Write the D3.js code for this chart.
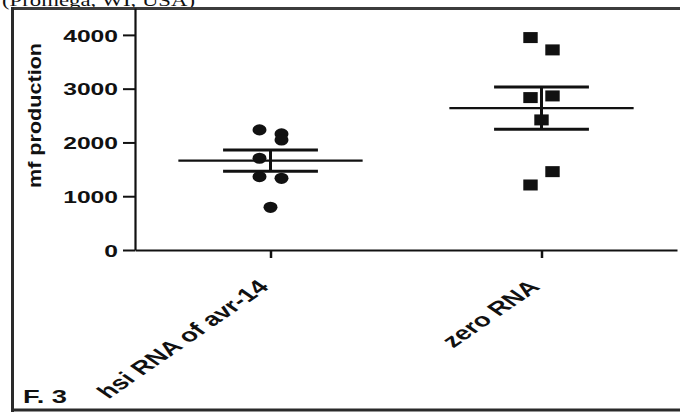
<!DOCTYPE html>
<html>
<head>
<meta charset="utf-8">
<script src="https://cdn.jsdelivr.net/npm/d3@7"></script>
<style>
  html, body { margin: 0; padding: 0; background: #fff; }
  svg { display: block; }
</style>
</head>
<body>
<svg id="chart" width="680" height="412"></svg>
<script>
// ---- data ----
const categories = ["hsi RNA of avr-14", "zero RNA"];
const hsiValues  = [2233, 2158, 2047, 1706, 1364, 1333, 794];
const hsiJitter  = [-1, 1, 1, -1, -1, 1, 0];
const zeroValues = [3950, 3721, 2865, 2834, 2419, 1457, 1209];
const zeroJitter = [-1, 1, 1, -1, 0, 1, -1];
const yTicks = [0, 1000, 2000, 3000, 4000];
const yLabel = "mf production";
const figLabel = "F. 3";
const headerText = "(Promega, WI, USA)";

const groups = [
  { name: categories[0], values: hsiValues, jitter: hsiJitter, shape: "circle" },
  { name: categories[1], values: zeroValues, jitter: zeroJitter, shape: "square" }
];

// ---- layout ----
const svg = d3.select("#chart");
const SX = 1.45; // horizontal stretch of the original figure
const x = d3.scalePoint().domain(categories).range([135, 677]).padding(0.5);
const y = d3.scaleLinear().domain([0, 4500]).range([250, 8]);
const step = x.step();
const font = "'Liberation Sans', Arial, sans-serif";

svg.append("rect").attr("width", 680).attr("height", 412).attr("fill", "#fff");

// header text (cut off at top in the source figure)
svg.append("text")
  .attr("x", 2).attr("y", 5.5)
  .attr("font-family", "'Liberation Serif', 'Times New Roman', serif")
  .attr("font-size", 16)
  .attr("textLength", 193).attr("lengthAdjust", "spacingAndGlyphs")
  .attr("fill", "#111")
  .text(headerText);

// frame
svg.append("line").attr("x1", 11).attr("x2", 680).attr("y1", 8.5).attr("y2", 8.5)
  .attr("stroke", "#3c3c3c").attr("stroke-width", 3);
svg.append("line").attr("x1", 12.5).attr("x2", 12.5).attr("y1", 7).attr("y2", 412)
  .attr("stroke", "#2a2a2a").attr("stroke-width", 3);
svg.append("line").attr("x1", 11).attr("x2", 680).attr("y1", 410).attr("y2", 410)
  .attr("stroke", "#2a2a2a").attr("stroke-width", 3);

// y axis
const yAxis = svg.append("g").attr("transform", "translate(135,0)")
  .call(d3.axisLeft(y).tickValues(yTicks).tickSize(12).tickSizeOuter(0).tickFormat(d3.format("d")));
yAxis.select(".domain").attr("stroke", "#111").attr("stroke-width", 2.2);
yAxis.selectAll(".tick line").attr("stroke", "#111").attr("stroke-width", 2);
yAxis.selectAll(".tick text")
  .attr("x", 0).attr("dy", "0.36em")
  .attr("transform", `translate(-17,0) scale(${SX},1)`)
  .attr("font-family", font).attr("font-weight", "bold").attr("font-size", 17)
  .attr("fill", "#111");

// x axis
const xAxis = svg.append("g").attr("transform", "translate(0,250)")
  .call(d3.axisBottom(x).tickSize(8).tickSizeOuter(0));
xAxis.select(".domain").attr("stroke", "#111").attr("stroke-width", 2.2);
xAxis.selectAll(".tick line").attr("stroke", "#111").attr("stroke-width", 2.5);
xAxis.selectAll(".tick text")
  .attr("x", 0).attr("y", 0).attr("dy", 0)
  .attr("text-anchor", "end")
  .attr("transform", `translate(-1,38) scale(${SX},1) rotate(-45)`)
  .attr("font-family", font).attr("font-weight", "bold").attr("font-size", 19)
  .attr("fill", "#111");

// y label
svg.append("text")
  .attr("transform", "translate(41,115.5) rotate(-90)")
  .attr("text-anchor", "middle")
  .attr("font-family", font).attr("font-weight", "bold").attr("font-size", 18)
  .attr("textLength", 145).attr("lengthAdjust", "spacingAndGlyphs")
  .attr("fill", "#111")
  .text(yLabel);

// figure label
svg.append("text")
  .attr("x", 23).attr("y", 403)
  .attr("font-family", font).attr("font-weight", "bold").attr("font-size", 17.5)
  .attr("textLength", 44).attr("lengthAdjust", "spacingAndGlyphs")
  .attr("fill", "#111")
  .text(figLabel);

// points, mean and SEM
const offset = 11;
groups.forEach(g => {
  const cx = x(g.name);
  const mean = d3.mean(g.values);
  const sem = d3.deviation(g.values) / Math.sqrt(g.values.length);
  const pts = svg.append("g");
  const data = g.values.map((v, i) => ({ v, j: g.jitter[i] }));
  if (g.shape === "circle") {
    pts.selectAll("ellipse").data(data).join("ellipse")
      .attr("cx", d => cx + d.j * offset)
      .attr("cy", d => y(d.v))
      .attr("rx", 7).attr("ry", 5.6)
      .attr("fill", "#111");
  } else {
    pts.selectAll("rect").data(data).join("rect")
      .attr("x", d => cx + d.j * offset - 7.2)
      .attr("y", d => y(d.v) - 5.5)
      .attr("width", 14.4).attr("height", 11)
      .attr("fill", "#111");
  }
  const lines = svg.append("g").attr("stroke", "#111");
  lines.append("line")
    .attr("x1", cx - step * 0.34).attr("x2", cx + step * 0.34)
    .attr("y1", y(mean)).attr("y2", y(mean))
    .attr("stroke-width", 2.2);
  lines.append("line")
    .attr("x1", cx).attr("x2", cx)
    .attr("y1", y(mean + sem)).attr("y2", y(mean - sem))
    .attr("stroke-width", 3);
  [mean + sem, mean - sem].forEach(v => {
    lines.append("line")
      .attr("x1", cx - step * 0.175).attr("x2", cx + step * 0.175)
      .attr("y1", y(v)).attr("y2", y(v))
      .attr("stroke-width", 3);
  });
});
</script>
</body>
</html>
